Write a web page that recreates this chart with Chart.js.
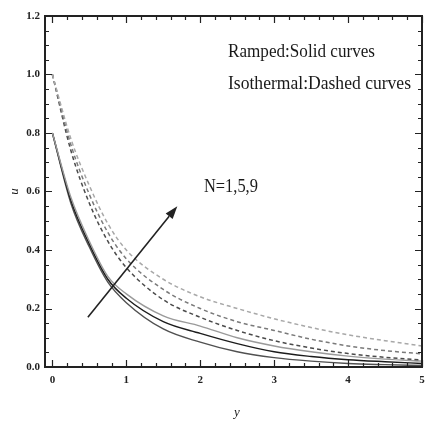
<!DOCTYPE html>
<html>
<head>
<meta charset="utf-8">
<script src="https://cdn.jsdelivr.net/npm/chart.js@4.4.1/dist/chart.umd.min.js"></script>
<style>
  html, body { margin: 0; padding: 0; background: #fff; }
  canvas { display: block; }
</style>
</head>
<body>
<canvas id="velocityChart" width="425" height="424"></canvas>
<script>
// sample points along y
const ySamples = [0, 0.25, 0.5, 0.75, 1, 1.5, 2, 2.5, 3, 3.5, 4, 4.5, 5];

// ramped wall temperature (solid curves), N = 1, 5, 9
const rampedN1 = [0.80, 0.56, 0.41, 0.29, 0.22, 0.13, 0.085, 0.052, 0.032, 0.020, 0.012, 0.008, 0.005];
const rampedN5 = [0.80, 0.57, 0.42, 0.30, 0.235, 0.155, 0.115, 0.080, 0.052, 0.036, 0.025, 0.018, 0.012];
const rampedN9 = [0.80, 0.58, 0.43, 0.31, 0.25, 0.175, 0.14, 0.10, 0.072, 0.052, 0.037, 0.027, 0.020];

// isothermal wall (dashed curves), N = 1, 5, 9
const isoN1 = [1.0, 0.74, 0.56, 0.43, 0.34, 0.23, 0.17, 0.125, 0.090, 0.065, 0.046, 0.033, 0.024];
const isoN5 = [1.0, 0.76, 0.59, 0.46, 0.37, 0.265, 0.20, 0.155, 0.125, 0.095, 0.072, 0.056, 0.045];
const isoN9 = [1.0, 0.78, 0.62, 0.49, 0.40, 0.30, 0.24, 0.20, 0.165, 0.135, 0.11, 0.09, 0.072];

// axis ticks
const xTicks = [0, 1, 2, 3, 4, 5];
const yTicks = [0, 0.2, 0.4, 0.6, 0.8, 1.0, 1.2];

// arrow showing increasing N (data units)
const arrowFrom = { x: 0.48, y: 0.17 };
const arrowTo = { x: 1.69, y: 0.55 };
const arrowLabel = { x: 2.05, y: 0.6, text: 'N=1,5,9' };

const legendLines = ['Ramped:Solid curves', 'Isothermal:Dashed curves'];

const SERIF = "'Liberation Serif', 'DejaVu Serif', serif";

function toPoints(values) {
  return ySamples.map((x, i) => ({ x: x, y: values[i] }));
}

function curve(values, color, dashed) {
  return {
    data: toPoints(values),
    borderColor: color,
    borderWidth: dashed ? 1.5 : 1.4,
    borderDash: dashed ? [4, 3] : [],
    pointRadius: 0,
    fill: false,
    cubicInterpolationMode: 'monotone'
  };
}

// frame, inward ticks, arrow and text labels
const decorations = {
  id: 'decorations',
  afterDraw(chart) {
    const ctx = chart.ctx;
    const { left, right, top, bottom } = chart.chartArea;
    const xs = chart.scales.x;
    const ys = chart.scales.y;
    ctx.save();

    ctx.strokeStyle = '#222';
    ctx.lineWidth = 1.2;
    ctx.beginPath();
    // x ticks every 0.2, major at integers
    for (let i = 0; i <= 25; i++) {
      const v = i * 0.2;
      const px = Math.round(xs.getPixelForValue(v)) + 0.5;
      const len = i % 5 === 0 ? 7 : 4;
      ctx.moveTo(px, bottom); ctx.lineTo(px, bottom - len);
      ctx.moveTo(px, top); ctx.lineTo(px, top + len);
    }
    // y ticks every 0.05, major every 0.2
    for (let i = 0; i <= 24; i++) {
      const v = i * 0.05;
      const py = Math.round(ys.getPixelForValue(v)) + 0.5;
      const len = i % 4 === 0 ? 7 : 4;
      ctx.moveTo(left, py); ctx.lineTo(left + len, py);
      ctx.moveTo(right, py); ctx.lineTo(right - len, py);
    }
    ctx.stroke();

    ctx.lineWidth = 2;
    ctx.strokeRect(left, top, right - left, bottom - top);

    // arrow
    const ax0 = xs.getPixelForValue(arrowFrom.x), ay0 = ys.getPixelForValue(arrowFrom.y);
    const ax1 = xs.getPixelForValue(arrowTo.x), ay1 = ys.getPixelForValue(arrowTo.y);
    const ang = Math.atan2(ay1 - ay0, ax1 - ax0);
    const head = 13, half = 4.5;
    const bx = ax1 - head * Math.cos(ang), by = ay1 - head * Math.sin(ang);
    ctx.lineWidth = 1.6;
    ctx.beginPath();
    ctx.moveTo(ax0, ay0); ctx.lineTo(bx, by);
    ctx.stroke();
    ctx.fillStyle = '#222';
    ctx.beginPath();
    ctx.moveTo(ax1, ay1);
    ctx.lineTo(bx + half * Math.sin(ang), by - half * Math.cos(ang));
    ctx.lineTo(bx - half * Math.sin(ang), by + half * Math.cos(ang));
    ctx.closePath();
    ctx.fill();

    // labels
    ctx.fillStyle = '#1a1a1a';
    ctx.textBaseline = 'alphabetic';
    ctx.textAlign = 'left';
    ctx.font = '18px ' + SERIF;
    ctx.fillText(arrowLabel.text, xs.getPixelForValue(arrowLabel.x), ys.getPixelForValue(arrowLabel.y), 54);

    ctx.font = '18px ' + SERIF;
    ctx.fillText(legendLines[0], 228, 57, 147);
    ctx.fillText(legendLines[1], 228, 89, 183);

    // axis titles
    ctx.font = 'italic 13px ' + SERIF;
    ctx.textAlign = 'center';
    ctx.textBaseline = 'middle';
    ctx.fillText('y', 237, 413);
    ctx.save();
    ctx.translate(15, ys.getPixelForValue(0.6));
    ctx.rotate(-Math.PI / 2);
    ctx.fillText('u', 0, 0);
    ctx.restore();

    ctx.restore();
  }
};

new Chart(document.getElementById('velocityChart'), {
  type: 'line',
  data: {
    datasets: [
      curve(isoN9, '#a8a8a8', true),
      curve(isoN5, '#7a7a7a', true),
      curve(isoN1, '#4a4a4a', true),
      curve(rampedN9, '#9a9a9a', false),
      curve(rampedN5, '#1c1c1c', false),
      curve(rampedN1, '#505050', false)
    ]
  },
  options: {
    responsive: false,
    animation: false,
    devicePixelRatio: 1,
    layout: { padding: { top: 16, right: 3, left: 0, bottom: 0 } },
    plugins: { legend: { display: false }, tooltip: { enabled: false } },
    scales: {
      x: {
        type: 'linear',
        min: -0.1,
        max: 5,
        grid: { display: false, drawTicks: false },
        border: { display: false },
        afterBuildTicks(scale) { scale.ticks = xTicks.map(v => ({ value: v })); },
        afterFit(scale) {
          scale.height = 57;
          scale.paddingLeft = 0;
          scale.paddingRight = 0;
        },
        ticks: {
          padding: 7,
          color: '#222',
          font: { family: SERIF, size: 11, weight: 'bold' },
          callback: v => String(v)
        }
      },
      y: {
        type: 'linear',
        min: 0,
        max: 1.2,
        grid: { display: false, drawTicks: false },
        border: { display: false },
        afterBuildTicks(scale) { scale.ticks = yTicks.map(v => ({ value: v })); },
        afterFit(scale) { scale.width = 45; },
        ticks: {
          padding: 5,
          color: '#222',
          font: { family: SERIF, size: 11, weight: 'bold' },
          callback: v => v.toFixed(1)
        }
      }
    }
  },
  plugins: [decorations]
});
</script>
</body>
</html>
